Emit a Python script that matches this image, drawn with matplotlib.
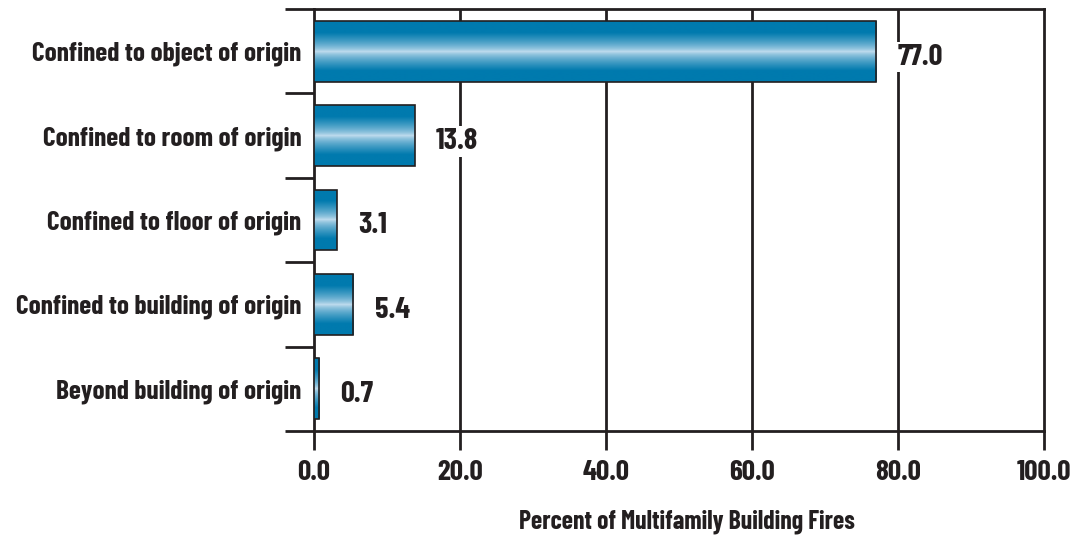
import numpy as np
import matplotlib.pyplot as plt
from matplotlib.patches import Rectangle

categories = ["Confined to object of origin", "Confined to room of origin",
              "Confined to floor of origin", "Confined to building of origin",
              "Beyond building of origin"]
values = [77.0, 13.8, 3.1, 5.4, 0.7]
xticks = [0, 20, 40, 60, 80, 100]

plt.rcParams["font.family"] = ["Barlow Condensed", "DejaVu Sans"]
plt.rcParams["font.weight"] = "bold"
ink = "#231f20"

fig = plt.figure(figsize=(10.78, 5.35), dpi=100)
ax = fig.add_axes([0.2913, 0.1944, 0.9685 - 0.2913, 0.9832 - 0.1944])
ax.set_xlim(0, 100)
ax.set_ylim(len(categories) - 0.5, -0.5)

# vertical gradient: dark blue at edges, pale in the middle
t = np.linspace(0, 1, 256)
w = np.abs(t - 0.5) * 2
dark = np.array([0x00, 0x7a, 0xae]) / 255
light = np.array([0xc6, 0xdf, 0xf0]) / 255
mix = np.clip(w * 1.6, 0, 1)[:, None] ** 0.7
grad = (light * (1 - mix) + dark * mix)[:, None, :]

h = 0.72
for i, v in enumerate(values):
    im = ax.imshow(grad, extent=[0, v, i + h / 2, i - h / 2], aspect="auto",
                   interpolation="bilinear", zorder=3)
    r = Rectangle((0, i - h / 2), v, h, facecolor="none", edgecolor=ink,
                  lw=1.2, zorder=4)
    ax.add_patch(r)
    im.set_clip_path(r)
    ax.text(v + 2.9, i + 0.07, f"{v:.1f}", va="center", ha="left", fontsize=22,
            color=ink, zorder=5,
            bbox=dict(facecolor="white", edgecolor="none", pad=1))

for x in xticks[1:-1]:
    ax.axvline(x, color=ink, lw=2, zorder=1)

ax.set_xticks(xticks)
ax.set_xticklabels([f"{x:.1f}" for x in xticks], fontsize=21)
ax.set_yticks(np.arange(-0.5, len(categories)), minor=False)
ax.set_yticklabels([])
ax.set_yticks(range(len(categories)), minor=True)
ax.set_yticklabels(categories, minor=True, fontsize=19.7)
ax.tick_params(axis="y", which="major", length=21, width=2, color=ink)
ax.tick_params(axis="y", which="minor", length=0, pad=9, colors=ink)
ax.tick_params(axis="x", length=14, width=2, pad=7, colors=ink)
for s in ax.spines.values():
    s.set_linewidth(2)
    s.set_color(ink)
ax.set_xlabel("Percent of Multifamily Building Fires", fontsize=18.5,
              fontweight="bold", color=ink, va="center")
ax.xaxis.set_label_coords(0.511, -0.215)

plt.savefig("out.png")
